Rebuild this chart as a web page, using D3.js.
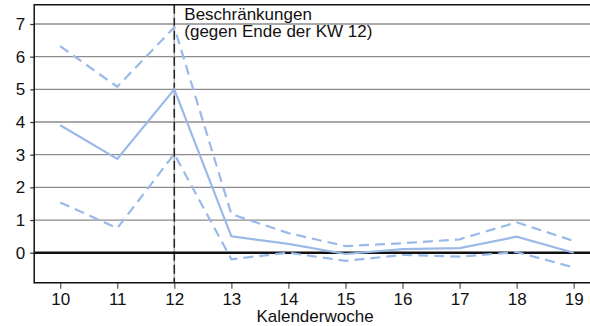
<!DOCTYPE html>
<html><head><meta charset="utf-8">
<script src="https://cdn.jsdelivr.net/npm/d3@7"></script>
<style>body{margin:0;background:#fff}svg{display:block}text{font-family:"Liberation Sans",Arial,sans-serif;fill:#111}</style>
</head><body><svg id="c" width="590" height="326"></svg>
<script>
const weeks = [10,11,12,13,14,15,16,17,18,19];
const central = [3.9,2.87,5.0,0.5,0.27,-0.04,0.11,0.14,0.49,0.0];
const upper = [6.32,5.08,6.9,1.18,0.6,0.2,0.29,0.41,0.93,0.36];
const lower = [1.54,0.75,3.02,-0.2,0.0,-0.25,-0.07,-0.12,0.02,-0.45];
const yTicks = [0,1,2,3,4,5,6,7];
const xTicks = weeks;
const annotationLines = ["Beschränkungen","(gegen Ende der KW 12)"];
const markerWeek = 12;
const xTitle = "Kalenderwoche";

const svg = d3.select("#c");
const pLeft = 34.2, pTop = 4.7, pBottom = 282.7;
const x = d3.scaleLinear().domain([10,19]).range([60.2,573.7]);
const y = d3.scaleLinear().domain([0,7]).range([252.7,24]);
const lineColor = "#9bb9e8";
const fontSz = 17;

// gridlines
svg.append("g").selectAll("line").data(yTicks.filter(d=>d!==0)).join("line")
  .attr("x1",pLeft).attr("x2",590).attr("y1",d=>y(d)).attr("y2",d=>y(d))
  .attr("stroke","#8c8c8c").attr("stroke-width",1.3);

// vertical marker (gray base + black dashes)
svg.append("line").attr("x1",x(markerWeek)).attr("x2",x(markerWeek)).attr("y1",pTop).attr("y2",pBottom)
  .attr("stroke","#b0b0b0").attr("stroke-width",1.5);
svg.append("line").attr("x1",x(markerWeek)).attr("x2",x(markerWeek)).attr("y1",pTop).attr("y2",pBottom)
  .attr("stroke","#222").attr("stroke-width",1.5).attr("stroke-dasharray","9,4");

// zero line
svg.append("line").attr("x1",pLeft).attr("x2",590).attr("y1",y(0)).attr("y2",y(0))
  .attr("stroke","#111").attr("stroke-width",2.6);

// series
const line = d3.line().x((d,i)=>x(weeks[i])).y(d=>y(d));
svg.append("path").attr("d",line(upper)).attr("fill","none").attr("stroke",lineColor)
  .attr("stroke-width",2.2).attr("stroke-dasharray","10,6");
svg.append("path").attr("d",line(lower)).attr("fill","none").attr("stroke",lineColor)
  .attr("stroke-width",2.2).attr("stroke-dasharray","10,6");
svg.append("path").attr("d",line(central)).attr("fill","none").attr("stroke",lineColor)
  .attr("stroke-width",2.2);

// frame
svg.append("line").attr("x1",pLeft).attr("x2",590).attr("y1",pTop).attr("y2",pTop).attr("stroke","#111").attr("stroke-width",1.5);

// axes
const yAxis = d3.axisLeft(y).tickValues(yTicks).tickSize(4).tickPadding(5).tickFormat(d3.format("d"));
const gy = svg.append("g").attr("transform",`translate(${pLeft},0)`).call(yAxis);
gy.select(".domain").remove();
svg.append("line").attr("x1",pLeft).attr("x2",pLeft).attr("y1",pTop-0.7).attr("y2",pBottom+0.7).attr("stroke","#111").attr("stroke-width",1.5);
gy.selectAll(".tick line").attr("stroke","#333").attr("stroke-width",1.2);
gy.selectAll("text").attr("font-size",fontSz).attr("fill","#111").style("font-family","Liberation Sans, Arial, sans-serif");

const xAxis = d3.axisBottom(x).tickValues(xTicks).tickSize(6).tickPadding(4).tickFormat(d3.format("d"));
const gx = svg.append("g").attr("transform",`translate(0,${pBottom})`).call(xAxis);
gx.select(".domain").remove();
svg.append("line").attr("x1",pLeft).attr("x2",590).attr("y1",pBottom).attr("y2",pBottom).attr("stroke","#111").attr("stroke-width",1.5);
gx.selectAll(".tick line").attr("stroke","#555").attr("stroke-width",1.2);
gx.selectAll("text").attr("font-size",fontSz).attr("fill","#111").style("font-family","Liberation Sans, Arial, sans-serif");

svg.append("text").attr("x",315).attr("y",322).attr("text-anchor","middle").attr("font-size",fontSz).text(xTitle);

const ann = svg.append("text").attr("x",x(markerWeek)+10).attr("y",20).attr("font-size",fontSz);
annotationLines.forEach((t,i)=>ann.append("tspan").attr("x",x(markerWeek)+10).attr("y",20+i*17.3).text(t));
</script></body></html>
